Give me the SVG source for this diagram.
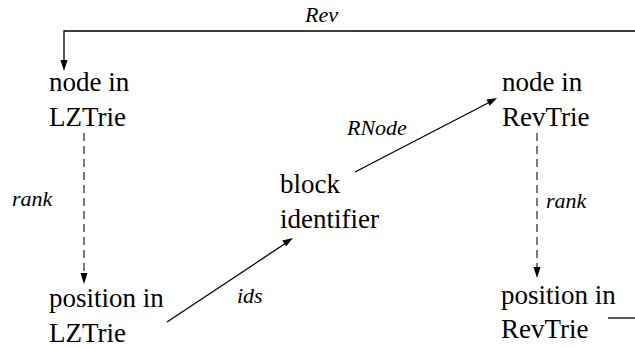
<svg xmlns="http://www.w3.org/2000/svg" width="635" height="348" viewBox="0 0 635 348">
<rect width="635" height="348" fill="#fff"/>
<g id="connectors" fill="none" stroke="#000" stroke-width="1.3">
<polyline points="635,31 64,31 64,62"/>
<polygon points="60.5,60 67.5,60 64,71" fill="#000" stroke="none"/>
<line x1="84" y1="133" x2="84" y2="275" stroke="#333" stroke-dasharray="8,5"/>
<polygon points="80.5,273 87.5,273 84,284" fill="#000" stroke="none"/>
<line x1="167" y1="322" x2="286" y2="243"/>
<polygon points="293,238 282.3,240.5 286.2,246.3" fill="#000" stroke="none"/>
<line x1="355" y1="172" x2="490" y2="102"/>
<polygon points="497,98 486.5,99.6 489.7,105.8" fill="#000" stroke="none"/>
<line x1="537" y1="133" x2="537" y2="269" stroke="#333" stroke-dasharray="8,5"/>
<polygon points="533.5,267 540.5,267 537,278" fill="#000" stroke="none"/>
<line x1="608" y1="318" x2="635" y2="318"/>
</g>
<text x="305" y="22" font-family="Liberation Serif" font-style="italic" font-size="22">Rev</text>
<text x="12" y="206" font-family="Liberation Serif" font-style="italic" font-size="22">rank</text>
<text x="237" y="303" font-family="Liberation Serif" font-style="italic" font-size="22">ids</text>
<text x="347" y="135" font-family="Liberation Serif" font-style="italic" font-size="22">RNode</text>
<text x="546" y="208" font-family="Liberation Serif" font-style="italic" font-size="22">rank</text>
<g id="node-lz"><text x="49" y="91" font-family="Liberation Serif" font-size="27">node in</text><text x="49" y="126" font-family="Liberation Serif" font-size="27">LZTrie</text></g>
<g id="pos-lz"><text x="49" y="307" font-family="Liberation Serif" font-size="27">position in</text><text x="49" y="342" font-family="Liberation Serif" font-size="27">LZTrie</text></g>
<g id="block"><text x="280" y="193" font-family="Liberation Serif" font-size="27">block</text><text x="280" y="228" font-family="Liberation Serif" font-size="27">identifier</text></g>
<g id="node-rev"><text x="502" y="91" font-family="Liberation Serif" font-size="27">node in</text><text x="502" y="126" font-family="Liberation Serif" font-size="27">RevTrie</text></g>
<g id="pos-rev"><text x="501" y="304" font-family="Liberation Serif" font-size="27">position in</text><text x="501" y="338" font-family="Liberation Serif" font-size="27">RevTrie</text></g>
</svg>
